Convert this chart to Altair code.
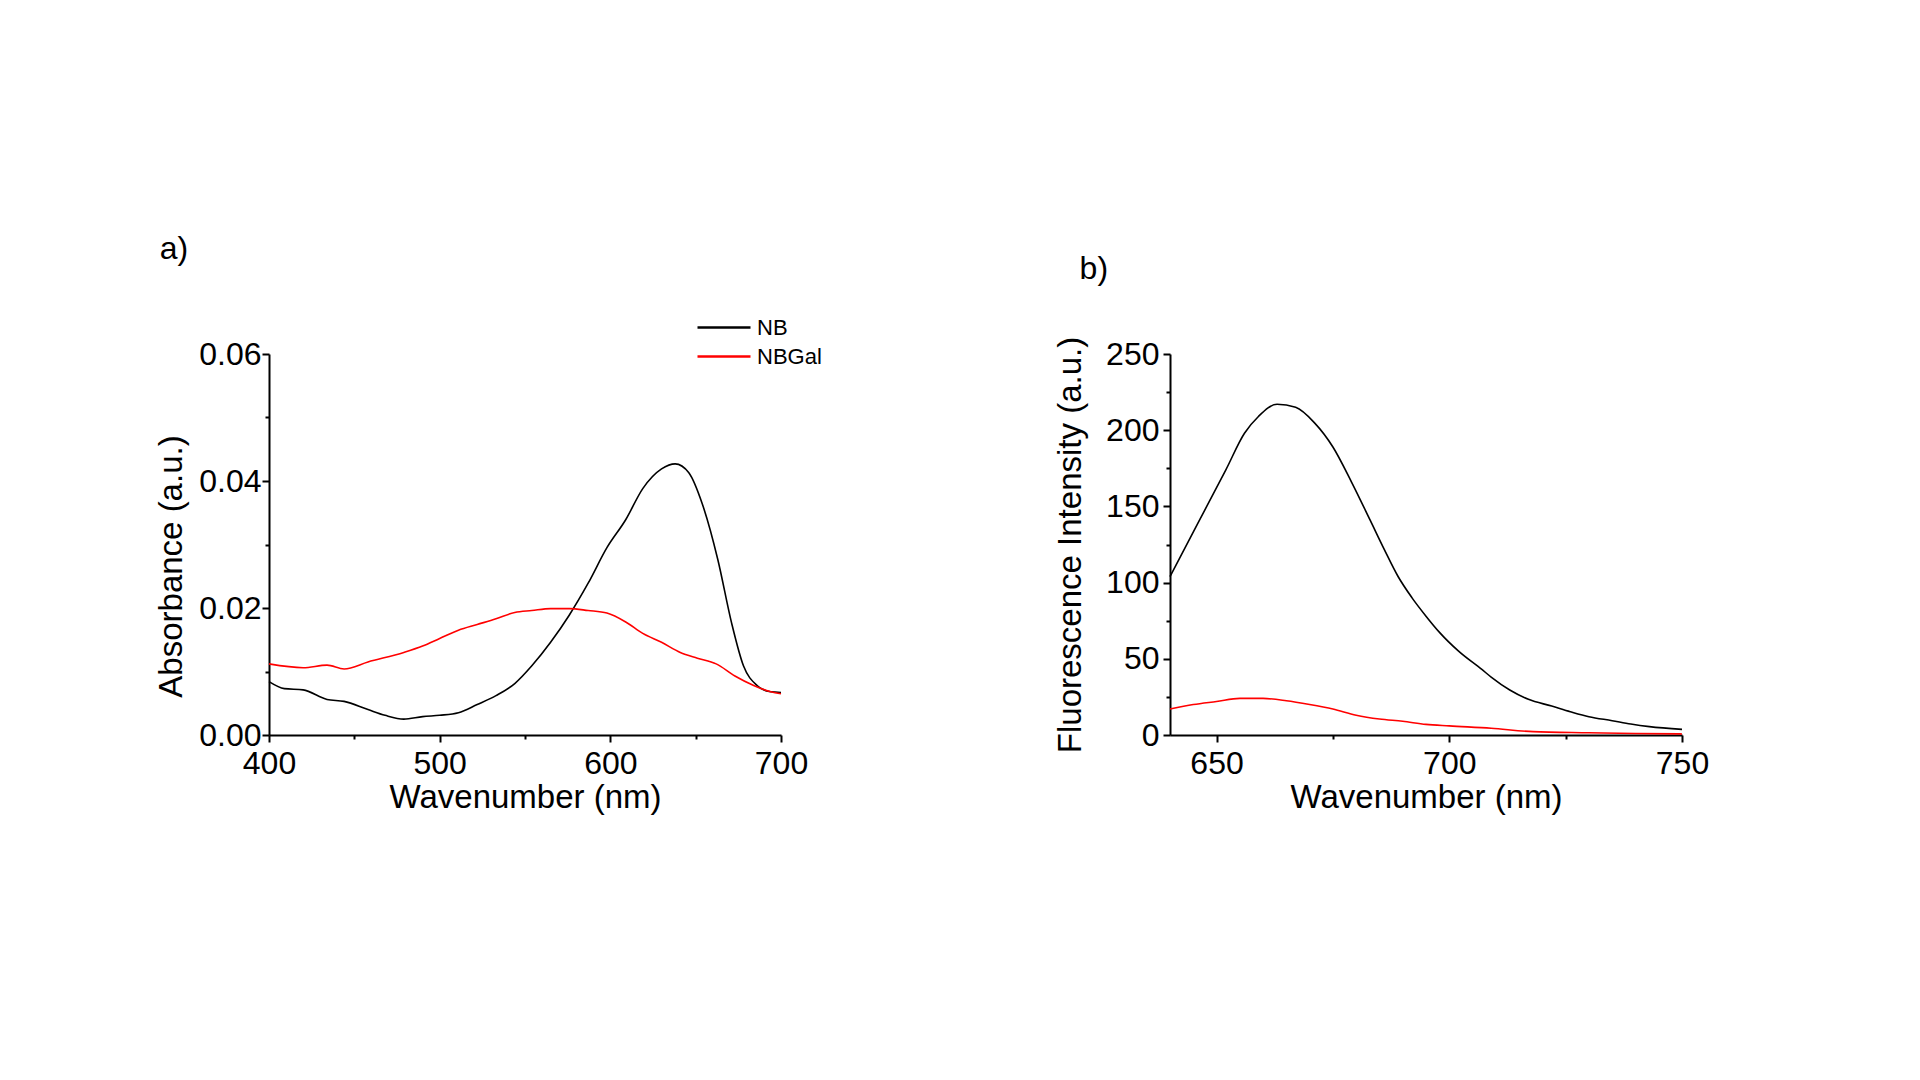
import altair as alt
import pandas as pd

FONT = "Liberation Sans"

# ---- panel a) absorbance ----
abs_nb_wl = [400, 409, 420, 434, 444, 458, 468, 479, 490, 500, 511, 522, 533, 544, 554,
             565, 576, 587, 598, 609, 619, 630, 638, 646, 654, 663, 671, 678, 686, 694, 700]
abs_nb_val = [0.0084, 0.0073, 0.0071, 0.0056, 0.0053, 0.0040, 0.0031, 0.0025, 0.0029, 0.0031,
              0.0035, 0.0048, 0.0062, 0.0081, 0.0109, 0.0146, 0.0189, 0.0239, 0.0295, 0.0339,
              0.0388, 0.0419, 0.0427, 0.0413, 0.0363, 0.0276, 0.0177, 0.0109, 0.0078, 0.0068, 0.0067]
abs_gal_wl = [400, 420, 434, 444, 458, 479, 490, 500, 511, 522, 533, 544, 554, 565, 576,
              587, 598, 609, 619, 630, 641, 651, 662, 673, 684, 694, 700]
abs_gal_val = [0.0112, 0.0106, 0.0110, 0.0104, 0.0115, 0.0130, 0.0140, 0.0152, 0.0165, 0.0174,
               0.0183, 0.0193, 0.0196, 0.0199, 0.0199, 0.0196, 0.0192, 0.0178, 0.0160, 0.0146,
               0.0130, 0.0121, 0.0112, 0.0093, 0.0078, 0.0068, 0.0065]

# ---- panel b) fluorescence ----
fl_nb_wl = [640, 646, 652, 656, 659, 663, 667, 671, 675, 679, 683, 686, 689, 692, 695,
            698, 702, 707, 709, 713, 717, 722, 726, 730, 735, 739, 743, 750]
fl_nb_val = [104, 139, 174, 198, 209, 217, 215, 205, 189, 166, 141, 122, 104, 90, 78,
             67, 55, 43, 38, 29.5, 23.4, 19, 15.3, 12, 9.4, 7.2, 5.5, 3.7]
fl_gal_wl = [640, 645, 650, 655, 660, 665, 670, 675, 680, 685, 690, 695, 700, 709, 718, 730, 740, 750]
fl_gal_val = [17, 20, 22, 24, 24, 22.5, 20, 17, 13, 10.5, 9, 7, 6, 4.4, 2.2, 1.5, 1.0, 0.7]

series_names = ["NB", "NBGal"]
series_colors = ["#000000", "#ff0000"]

abs_x_ticks = [400, 450, 500, 550, 600, 650, 700]
abs_y_ticks = [0, 0.01, 0.02, 0.03, 0.04, 0.05, 0.06]
fl_x_ticks = [650, 675, 700, 725, 750]
fl_y_ticks = [0, 25, 50, 75, 100, 125, 150, 175, 200, 225, 250]


def frame(wl_a, val_a, wl_b, val_b):
    return pd.concat([
        pd.DataFrame({"wl": wl_a, "val": val_a, "series": series_names[0]}),
        pd.DataFrame({"wl": wl_b, "val": val_b, "series": series_names[1]}),
    ])


legend = alt.Legend(title=None, orient="none", legendX=427, legendY=-41,
                    symbolType="stroke", symbolSize=2809, symbolStrokeWidth=2.5,
                    labelFont=FONT, labelFontSize=22, labelColor="black",
                    clipHeight=29, rowPadding=0, labelOffset=5)
color = alt.Color("series:N", scale=alt.Scale(domain=series_names, range=series_colors),
                  legend=legend)

W, H = 512, 381

# panel a
df_a = frame(abs_nb_wl, abs_nb_val, abs_gal_wl, abs_gal_val)
chart_a = alt.Chart(df_a).mark_line(strokeWidth=1.6, interpolate="monotone").encode(
    x=alt.X("wl:Q", scale=alt.Scale(domain=[400, 700], nice=False, zero=False),
            axis=alt.Axis(values=abs_x_ticks, title="Wavenumber (nm)",
                          labelExpr="datum.value % 100 == 0 ? datum.label : ''",
                          tickSize={"condition": {"test": "datum.value % 100 == 0", "value": 7}, "value": 4},
                          labelPadding=6, titlePadding=2)),
    y=alt.Y("val:Q", scale=alt.Scale(domain=[0, 0.06], nice=False),
            axis=alt.Axis(values=abs_y_ticks, format=".2f", title="Absorbance (a.u.)",
                          labelExpr="round(datum.value * 100) % 2 == 0 ? datum.label : ''",
                          tickSize={"condition": {"test": "round(datum.value * 100) % 2 == 0", "value": 7}, "value": 4},
                          labelPadding=1, titlePadding=10, titleY=212)),
    color=color,
    order=alt.Order("wl:Q"),
).properties(
    width=W, height=H,
    title=alt.TitleParams("a)", anchor="start", frame="bounds", font=FONT, fontSize=32,
                          fontWeight="normal", color="black", offset=72, dx=4),
)

# panel b
df_b = frame(fl_nb_wl, fl_nb_val, fl_gal_wl, fl_gal_val)
chart_b = alt.Chart(df_b).mark_line(strokeWidth=1.6, interpolate="monotone").encode(
    x=alt.X("wl:Q", scale=alt.Scale(domain=[640, 750], nice=False, zero=False),
            axis=alt.Axis(values=fl_x_ticks, title="Wavenumber (nm)",
                          labelExpr="datum.value % 50 == 0 ? datum.label : ''",
                          tickSize={"condition": {"test": "datum.value % 50 == 0", "value": 7}, "value": 4},
                          labelPadding=6, titlePadding=2)),
    y=alt.Y("val:Q", scale=alt.Scale(domain=[0, 250], nice=False),
            axis=alt.Axis(values=fl_y_ticks, title="Fluorescence Intensity (a.u.)",
                          labelExpr="datum.value % 50 == 0 ? datum.label : ''",
                          tickSize={"condition": {"test": "datum.value % 50 == 0", "value": 7}, "value": 4},
                          labelPadding=4, titlePadding=18)),
    color=color,
    order=alt.Order("wl:Q"),
).properties(
    width=W, height=H,
    title=alt.TitleParams("b)", anchor="start", frame="bounds", font=FONT, fontSize=32,
                          fontWeight="normal", color="black", offset=50, dx=25),
)

chart = alt.hconcat(chart_a, chart_b, spacing=246).properties(
    padding={"left": 147, "top": 225, "right": 5, "bottom": 5},
    background="white",
).configure_axis(
    labelFont=FONT, labelFontSize=32, labelColor="black", labelFlush=False,
    titleFont=FONT, titleFontSize=33, titleFontWeight="normal", titleColor="black",
    domainColor="black", domainWidth=2, tickColor="black", tickWidth=2, grid=False,
).configure_view(strokeOpacity=0)

chart.save("out.html", embed_options={"renderer": "svg", "actions": False})
